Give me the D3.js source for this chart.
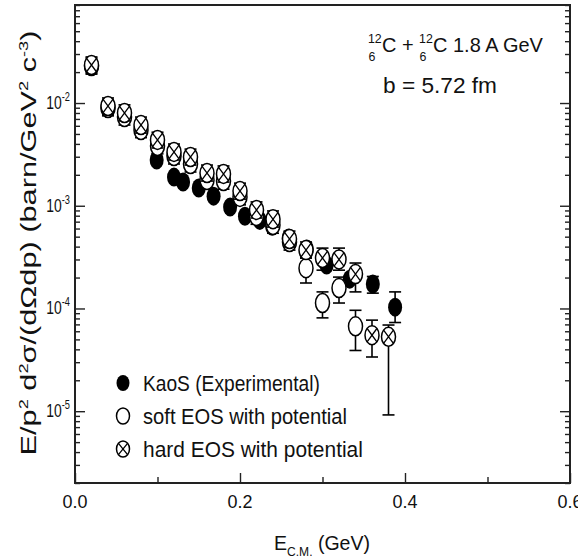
<!DOCTYPE html>
<html>
<head>
<meta charset="utf-8">
<script src="https://cdn.jsdelivr.net/npm/d3@7/dist/d3.min.js"></script>
<style>
  body { margin: 0; background: #fff; }
  svg text { font-family: "Liberation Sans", Arial, sans-serif; fill: #111; }
</style>
</head>
<body>
<div id="chart"></div>
<script>
// KaoS measured points (E_cm in GeV, invariant cross section)
const kaosE = [0.099, 0.120, 0.131, 0.150, 0.168, 0.188, 0.206, 0.224, 0.239, 0.259, 0.281, 0.305, 0.333, 0.361, 0.388]
const kaosSigma = [2.79e-3, 1.90e-3, 1.70e-3, 1.49e-3, 1.24e-3, 9.7e-4, 7.9e-4, 7.2e-4, 6.3e-4, 4.85e-4, 3.8e-4, 2.65e-4, 1.93e-4, 1.73e-4, 1.03e-4]
const kaosLo = [null, null, null, null, null, null, null, null, null, null, null, null, null, 1.41e-4, 7.3e-5]
const kaosHi = [null, null, null, null, null, null, null, null, null, null, null, null, null, 2.05e-4, 1.45e-4]

// model energies
const modelE = [0.02, 0.04, 0.06, 0.08, 0.10, 0.12, 0.14, 0.16, 0.18, 0.20, 0.22, 0.24, 0.26, 0.28, 0.30, 0.32, 0.34, 0.36, 0.38]

// soft EOS with potential
const softSigma = [0.0229, 8.94e-3, 7.31e-3, 5.46e-3, 3.81e-3, 3.05e-3, 2.55e-3, 1.78e-3, 1.74e-3, 1.22e-3, 7.94e-4, 6.49e-4, 4.44e-4, 2.47e-4, 1.13e-4, 1.58e-4, 6.7e-5]
const softLo = [0.0191, 7.5e-3, 6.1e-3, 4.6e-3, 3.2e-3, 2.55e-3, 2.13e-3, 1.49e-3, 1.45e-3, 1.02e-3, 6.6e-4, 5.4e-4, 3.7e-4, 1.77e-4, 8.1e-5, 1.13e-4, 3.9e-5]
const softHi = [0.0274, 1.07e-2, 8.7e-3, 6.5e-3, 4.6e-3, 3.65e-3, 3.05e-3, 2.13e-3, 2.08e-3, 1.46e-3, 9.5e-4, 7.8e-4, 5.3e-4, 3.1e-4, 1.45e-4, 2.02e-4, 9.6e-5]

// hard EOS with potential
const hardSigma = [0.0234, 9.35e-3, 8.0e-3, 6.1e-3, 4.37e-3, 3.34e-3, 2.98e-3, 2.08e-3, 2.04e-3, 1.39e-3, 9.1e-4, 7.4e-4, 4.74e-4, 3.7e-4, 3.1e-4, 3.0e-4, 2.16e-4, 5.5e-5, 5.3e-5]
const hardLo = [0.0196, 7.8e-3, 6.7e-3, 5.1e-3, 3.65e-3, 2.79e-3, 2.49e-3, 1.74e-3, 1.70e-3, 1.16e-3, 7.6e-4, 6.2e-4, 3.96e-4, 3.1e-4, 2.36e-4, 2.36e-4, 1.45e-4, 3.37e-5, 9.2e-6]
const hardHi = [0.0281, 0.0112, 9.6e-3, 7.3e-3, 5.2e-3, 3.99e-3, 3.56e-3, 2.49e-3, 2.44e-3, 1.66e-3, 1.09e-3, 8.9e-4, 5.67e-4, 4.44e-4, 3.87e-4, 3.87e-4, 2.77e-4, 7.7e-5, 6.9e-5]

const xMajor = [0, 0.2, 0.4, 0.6]
const xMinor = [0.1, 0.3, 0.5]
const yMajor = [1e-5, 1e-4, 1e-3, 1e-2]
const yExponents = ["-5", "-4", "-3", "-2"]
const legendLabels = ["KaoS (Experimental)", "soft EOS with potential", "hard EOS with potential"]

const width = 578, height = 560
const margin = {top: 5, right: 8, bottom: 77, left: 75}

const svg = d3.select('#chart').append('svg')
    .attr('width', width)
    .attr('height', height)

const x = d3.scaleLinear()
    .domain([0, 0.6])
    .range([margin.left, width - margin.right])
const y = d3.scaleLog()
    .domain([2e-6, 9e-2])
    .range([height - margin.bottom, margin.top])

// rich text: parts = [{t, dx, dy, size}], squeezed horizontally to a target width
function richText(parent, px, py, parts, opts) {
    const g = parent.append('g')
    const t = g.append('text')
        .attr('font-size', opts.size)
        .attr('text-anchor', opts.anchor || 'start')
    parts.forEach(p => {
        const s = t.append('tspan').text(p.t)
        if (p.dx) s.attr('dx', p.dx)
        if (p.dy) s.attr('dy', p.dy)
        if (p.size) s.attr('font-size', p.size)
    })
    const natural = t.node().getBBox().width
    const k = opts.width ? opts.width / natural : 1
    g.attr('transform', `translate(${px},${py}) rotate(${opts.rotate || 0}) scale(${k},1)`)
    return g
}

// ---- axes (ticks point inward, frame drawn separately)
const minorY = y.ticks().filter(v => !yMajor.some(m => Math.abs(m - v) / m < 1e-6))

function tickAxis(axis, pos, values, size) {
    const g = svg.append('g')
        .attr('transform', pos)
        .call(axis.tickValues(values).tickSize(size).tickSizeOuter(0).tickFormat(''))
    g.select('.domain').remove()
    g.selectAll('line').attr('stroke', '#222').attr('stroke-width', 1.4)
    return g
}
tickAxis(d3.axisLeft(y), `translate(${margin.left},0)`, yMajor, -10)
tickAxis(d3.axisLeft(y), `translate(${margin.left},0)`, minorY, -5)
tickAxis(d3.axisRight(y), `translate(${width - margin.right},0)`, yMajor, -10)
tickAxis(d3.axisRight(y), `translate(${width - margin.right},0)`, minorY, -5)
tickAxis(d3.axisBottom(x), `translate(0,${height - margin.bottom})`, xMajor, -10)
tickAxis(d3.axisBottom(x), `translate(0,${height - margin.bottom})`, xMinor, -6)

svg.append('rect')
    .attr('x', margin.left)
    .attr('y', margin.top)
    .attr('width', width - margin.left - margin.right)
    .attr('height', height - margin.top - margin.bottom)
    .attr('fill', 'none')
    .attr('stroke', '#222')
    .attr('stroke-width', 2)

// tick labels
xMajor.forEach(v => {
    richText(svg, x(v), height - margin.bottom + 25, [{t: d3.format('.1f')(v)}], {size: 18, anchor: 'middle', width: 25})
})
yMajor.forEach((v, i) => {
    richText(svg, margin.left - 5, y(v) + 6, [
        {t: '10'},
        {t: yExponents[i], dy: -8, size: 12}
    ], {size: 18, anchor: 'end', width: 24})
})

// axis titles
richText(svg, 322, 550, [
    {t: 'E'},
    {t: 'C.M.', dy: 6, size: 13},
    {t: ' (GeV)', dy: -6}
], {size: 21, anchor: 'middle', width: 96})

richText(svg, 36, 243, [
    {t: 'E/p'}, {t: '2', dy: -8, size: 13}, {t: ' d', dy: 8}, {t: '2', dy: -8, size: 13},
    {t: 'σ/(dΩdp) (barn/GeV', dy: 8}, {t: '2', dy: -8, size: 13}, {t: ' c', dy: 8},
    {t: '-3', dy: -8, size: 13}, {t: ')', dy: 8}
], {size: 22, anchor: 'middle', width: 425, rotate: -90})

// annotation
richText(svg, 368, 52, [
    {t: '12', dy: -9, size: 13},
    {t: '6', dx: -14, dy: 18, size: 13},
    {t: 'C + ', dx: 7, dy: -9},
    {t: '12', dy: -9, size: 13},
    {t: '6', dx: -14, dy: 18, size: 13},
    {t: 'C 1.8 A GeV', dx: 7, dy: -9}
], {size: 21, width: 175})
richText(svg, 383, 93, [{t: 'b = 5.72 fm'}], {size: 22, width: 114})

// ---- markers
function drawMarker(g, kind, rx, ry) {
    if (kind === 'kaos') {
        g.append('ellipse').attr('rx', rx).attr('ry', ry).attr('fill', '#000')
        return
    }
    g.append('ellipse').attr('rx', rx).attr('ry', ry)
        .attr('fill', '#fff').attr('stroke', '#000').attr('stroke-width', 1.5)
    if (kind === 'hard') {
        const a = rx * 0.7, b = ry * 0.7
        g.append('path')
            .attr('d', `M${-a},${-b}L${a},${b}M${-a},${b}L${a},${-b}`)
            .attr('stroke', '#000').attr('stroke-width', 1.3)
    }
}

function drawErrors(es, lo, hi) {
    const g = svg.append('g').attr('stroke', '#000').attr('stroke-width', 1.6)
    es.forEach((e, i) => {
        if (lo[i] == null) return
        const cx = x(e), y0 = y(lo[i]), y1 = y(hi[i])
        g.append('line').attr('x1', cx).attr('x2', cx).attr('y1', y0).attr('y2', y1)
        g.append('line').attr('x1', cx - 6).attr('x2', cx + 6).attr('y1', y0).attr('y2', y0)
        g.append('line').attr('x1', cx - 6).attr('x2', cx + 6).attr('y1', y1).attr('y2', y1)
    })
}

function drawSeries(es, vals, kind) {
    es.slice(0, vals.length).forEach((e, i) => {
        const g = svg.append('g').attr('transform', `translate(${x(e)},${y(vals[i])})`)
        drawMarker(g, kind, 7, 9.5)
    })
}

drawErrors(kaosE, kaosLo, kaosHi)
drawSeries(kaosE, kaosSigma, 'kaos')
drawErrors(modelE.slice(0, softSigma.length), softLo, softHi)
drawSeries(modelE, softSigma, 'soft')
drawErrors(modelE, hardLo, hardHi)
drawSeries(modelE, hardSigma, 'hard')

// ---- legend
const legendKinds = ['kaos', 'soft', 'hard']
const legendWidths = [177, 204, 220]
legendLabels.forEach((lab, i) => {
    const ly = 383 + i * 33
    const g = svg.append('g').attr('transform', `translate(123,${ly})`)
    drawMarker(g, legendKinds[i], 6.5, 8)
    richText(svg, 143, ly + 8, [{t: lab}], {size: 22, width: legendWidths[i]})
})
</script>
</body>
</html>
